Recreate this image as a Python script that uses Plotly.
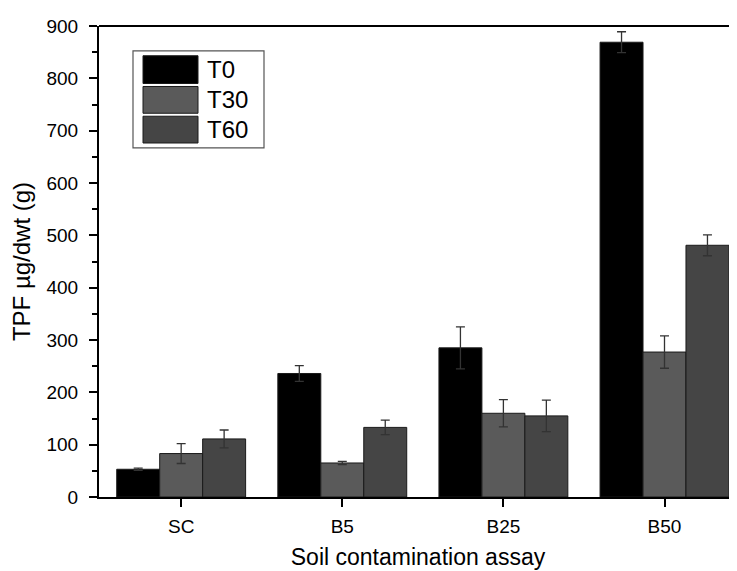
import plotly.graph_objects as go

categories = ["SC", "B5", "B25", "B50"]
series_names = ["T0", "T30", "T60"]
t0_values = [53, 236, 285, 869]
t0_errors = [2, 15, 40, 20]
t30_values = [83, 65, 160, 277]
t30_errors = [19, 3, 26, 31]
t60_values = [111, 133, 155, 481]
t60_errors = [17, 14, 30, 20]
y_ticks = [0, 100, 200, 300, 400, 500, 600, 700, 800, 900]

colors = ["#000000", "#5a5a5a", "#454545"]
values = [t0_values, t30_values, t60_values]
errors = [t0_errors, t30_errors, t60_errors]

fig = go.Figure()
for name, vals, errs, col in zip(series_names, values, errors, colors):
    fig.add_trace(go.Bar(
        x=categories, y=vals, name=name,
        marker=dict(color=col, line=dict(color="#1a1a1a", width=1)),
        error_y=dict(type="data", array=errs, visible=True,
                     color="#333333", thickness=1.3, width=4.5),
        showlegend=False,
    ))

font_family = "Liberation Sans, Arial, sans-serif"

fig.update_layout(
    width=737, height=571,
    margin=dict(l=91, r=8, t=14, b=82),
    paper_bgcolor="white", plot_bgcolor="white",
    barmode="group", bargap=0.2, bargroupgap=0,
    font=dict(family=font_family, size=19, color="black"),
    xaxis=dict(
        range=[-0.51, 3.45], showline=True, linecolor="black", linewidth=2,
        ticks="outside", ticklen=8, tickwidth=2, tickcolor="black",
        tickfont=dict(size=19), ticklabelstandoff=3,
        title=dict(text="Soil contamination assay", font=dict(size=23), standoff=13),
        showgrid=False, zeroline=False,
    ),
    yaxis=dict(
        range=[0, 900], tickvals=y_ticks, showline=True, linecolor="black", linewidth=2,
        ticks="outside", ticklen=8, tickwidth=2, tickcolor="black",
        tickfont=dict(size=19), ticklabelstandoff=7,
        minor=dict(dtick=50, ticks="outside", ticklen=5, tickwidth=2, tickcolor="black", showgrid=False),
        title=dict(text="TPF µg/dwt (g)", font=dict(size=24), standoff=10),
        showgrid=False, zeroline=False,
    ),
)

# top frame line
fig.add_shape(type="line", xref="paper", yref="paper", x0=0, x1=1, y0=1, y1=1,
              line=dict(color="black", width=2))

# custom legend (positions in screen pixels of the plot area)
def px_x(p):
    return (p - 99) / 638.0

def px_y(p):
    return (497 - p) / 475.0

fig.add_shape(type="rect", xref="paper", yref="paper",
              x0=px_x(133), x1=px_x(264), y0=px_y(145), y1=px_y(47),
              line=dict(color="#555555", width=1.2), fillcolor="white", layer="above")
rows = [(52, 80), (83, 110), (113, 140)]
for (top, bot), name, col in zip(rows, series_names, colors):
    fig.add_shape(type="rect", xref="paper", yref="paper",
                  x0=px_x(143), x1=px_x(198), y0=px_y(bot), y1=px_y(top),
                  line=dict(color="#1a1a1a", width=1), fillcolor=col, layer="above")
    fig.add_annotation(xref="paper", yref="paper", x=px_x(205), y=px_y((top + bot) / 2),
                       text=name, showarrow=False, xanchor="left", yanchor="middle",
                       font=dict(size=24, family=font_family, color="black"))

fig.write_html("out.html")
